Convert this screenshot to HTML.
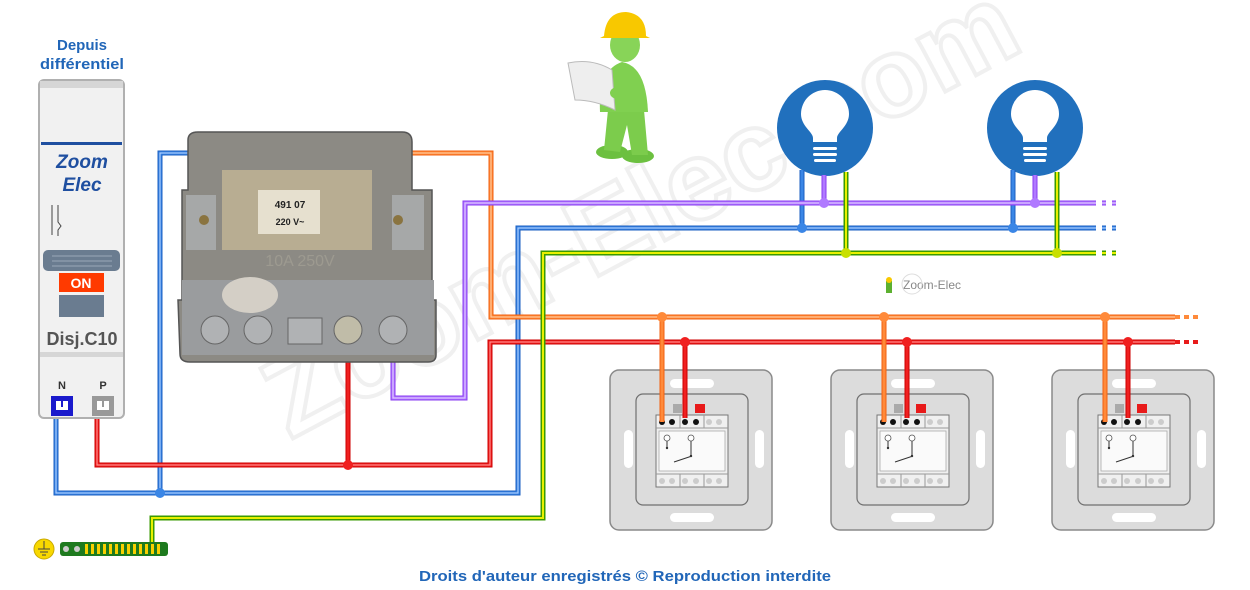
<!DOCTYPE html>
<html><head><meta charset="utf-8"><style>
html,body{margin:0;padding:0;background:#fff;width:1250px;height:590px;overflow:hidden}
svg{display:block;font-family:"Liberation Sans",sans-serif}
</style></head><body>
<svg width="1250" height="590" viewBox="0 0 1250 590" xmlns="http://www.w3.org/2000/svg">
<defs>
<g id="sw">
 <rect x="0" y="0" width="162" height="160" rx="9" fill="#dcdcdc" stroke="#8a8a8a" stroke-width="1.5"/>
 <rect x="26" y="24" width="112" height="111" rx="7" fill="#dcdcdc" stroke="#707070" stroke-width="1.2"/>
 <rect x="60" y="9" width="44" height="9" rx="4.5" fill="#fff"/>
 <rect x="60" y="143" width="44" height="9" rx="4.5" fill="#fff"/>
 <rect x="14" y="60" width="9" height="38" rx="4.5" fill="#fff"/>
 <rect x="145" y="60" width="9" height="38" rx="4.5" fill="#fff"/>
 <rect x="46" y="45" width="72" height="72" fill="#f0f0f0" stroke="#777" stroke-width="1"/>
 <rect x="63" y="34" width="9" height="9" fill="#aaa"/>
 <rect x="85" y="34" width="10" height="9" fill="#e81a1a"/>
 <line x1="70" y1="45" x2="70" y2="58" stroke="#999"/><line x1="94" y1="45" x2="94" y2="58" stroke="#999"/>
 <line x1="46" y1="58" x2="118" y2="58" stroke="#999"/>
 <circle cx="52" cy="52" r="3" fill="#111"/><circle cx="62" cy="52" r="3" fill="#111"/>
 <circle cx="75" cy="52" r="3" fill="#111"/><circle cx="86" cy="52" r="3" fill="#111"/>
 <circle cx="99" cy="52" r="3" fill="#ccc"/><circle cx="109" cy="52" r="3" fill="#ccc"/>
 <rect x="49" y="61" width="66" height="40" fill="#fafafa" stroke="#aaa" stroke-width=".8"/>
 <circle cx="57" cy="68" r="3" fill="#fff" stroke="#555" stroke-width=".8"/>
 <circle cx="81" cy="68" r="3" fill="#fff" stroke="#555" stroke-width=".8"/>
 <line x1="57" y1="71" x2="57" y2="78" stroke="#333"/><circle cx="57" cy="78" r="1.2" fill="#333"/>
 <line x1="81" y1="71" x2="81" y2="86" stroke="#333"/><circle cx="81" cy="86" r="1.2" fill="#333"/>
 <line x1="64" y1="92" x2="82" y2="86" stroke="#333"/>
 <line x1="46" y1="104" x2="118" y2="104" stroke="#999"/>
 <line x1="70" y1="104" x2="70" y2="117" stroke="#999"/><line x1="94" y1="104" x2="94" y2="117" stroke="#999"/>
 <circle cx="52" cy="111" r="3" fill="#ccc"/><circle cx="62" cy="111" r="3" fill="#ccc"/>
 <circle cx="75" cy="111" r="3" fill="#ccc"/><circle cx="86" cy="111" r="3" fill="#ccc"/>
 <circle cx="99" cy="111" r="3" fill="#ccc"/><circle cx="109" cy="111" r="3" fill="#ccc"/>
</g>
<g id="lamp">
 <circle cx="0" cy="0" r="48" fill="#2170bd"/>
 <path d="M-12,14 L-12,10 C-12,4 -24,-2 -24,-14 A24,24 0 1 1 24,-14 C24,-2 12,4 12,10 L12,14 Z" fill="#fff"/>
 <rect x="-12" y="19" width="24" height="3" rx="1.5" fill="#fff"/>
 <rect x="-12" y="25" width="24" height="3" rx="1.5" fill="#fff"/>
 <rect x="-11" y="31" width="22" height="3" rx="1.5" fill="#fff"/>
</g>
</defs>

<!-- watermark -->
<text x="0" y="0" transform="translate(290,440) rotate(-28)" font-size="112" font-weight="bold" fill="none" stroke="#f0f0f0" stroke-width="4">Zoom-Elec.com</text>

<!-- switches -->
<use href="#sw" x="610" y="370"/>
<use href="#sw" x="831" y="370"/>
<use href="#sw" x="1052" y="370"/>

<!-- lamps -->
<use href="#lamp" x="825" y="128"/>
<use href="#lamp" x="1035" y="128"/>

<!-- wires -->
<g fill="none" stroke-linejoin="miter">
 <g>
  <path d="M56,412 V493 H518 V228 H1120 M160,493 V153 H209 V190 M802,170 V228 M1013,170 V228" stroke="#1b5fc0" stroke-width="5"/>
  <path d="M56,412 V493 H518 V228 H1120 M160,493 V153 H209 V190 M802,170 V228 M1013,170 V228" stroke="#3a86e6" stroke-width="3"/>
  <path d="M56,412 V493 H518 V228 H1120 M160,493 V153 H209 V190" stroke="#b8d4ff" stroke-width="1"/>
  <path d="M1092,228 H1120" stroke="#fff" stroke-width="6" stroke-dasharray="0 4 6 4 6 4 4"/>
 </g>
 <g>
  <path d="M97,418 V465 H490 V342 H1175 M348,360 V465 M685,342 V418 M907,342 V418 M1128,342 V418" stroke="#c00" stroke-width="5"/>
  <path d="M97,418 V465 H490 V342 H1175 M348,360 V465 M685,342 V418 M907,342 V418 M1128,342 V418" stroke="#f02020" stroke-width="3"/>
  <path d="M97,418 V465 H490 V342 H1175" stroke="#ff9a9a" stroke-width="1"/>
  <path d="M1175,342 H1200" stroke="#e81a1a" stroke-width="4" stroke-dasharray="5 4"/>
 </g>
 <g>
  <path d="M398,192 V153 H491 V317 H1175 M662,317 V422 M884,317 V422 M1105,317 V422" stroke="#f06010" stroke-width="5"/>
  <path d="M398,192 V153 H491 V317 H1175 M662,317 V422 M884,317 V422 M1105,317 V422" stroke="#ff8a3a" stroke-width="3"/>
  <path d="M398,192 V153 H491 V317 H1175" stroke="#ffd0a8" stroke-width="1"/>
  <path d="M1175,317 H1200" stroke="#ff8a3a" stroke-width="4" stroke-dasharray="5 4"/>
 </g>
 <g>
  <path d="M393,360 V398 H465 V203 H1120 M824,175 V203 M1035,175 V203" stroke="#8a3cf0" stroke-width="5"/>
  <path d="M393,360 V398 H465 V203 H1120 M824,175 V203 M1035,175 V203" stroke="#b07aff" stroke-width="3"/>
  <path d="M393,360 V398 H465 V203 H1120" stroke="#e4d0ff" stroke-width="1"/>
  <path d="M1092,203 H1122" stroke="#fff" stroke-width="6" stroke-dasharray="0 4 6 4 6 4 4"/>
 </g>
 <g>
  <path d="M152,545 V518 H543 V253 H1120 M846,172 V253 M1057,172 V253" stroke="#3a9a00" stroke-width="5"/>
  <path d="M152,545 V518 H543 V253 H1120 M846,172 V253 M1057,172 V253" stroke="#e8f000" stroke-width="2"/>
  <path d="M1092,253 H1122" stroke="#fff" stroke-width="6" stroke-dasharray="0 4 6 4 6 4 4"/>
 </g>
</g>
<g>
 <circle cx="160" cy="493" r="5" fill="#3a86e6"/>
 <circle cx="348" cy="465" r="5" fill="#f02020"/>
 <circle cx="802" cy="228" r="5" fill="#3a86e6"/><circle cx="1013" cy="228" r="5" fill="#3a86e6"/>
 <circle cx="824" cy="203" r="5" fill="#b07aff"/><circle cx="1035" cy="203" r="5" fill="#b07aff"/>
 <circle cx="846" cy="253" r="5" fill="#c8e000"/><circle cx="1057" cy="253" r="5" fill="#c8e000"/>
 <circle cx="662" cy="317" r="5" fill="#ff8a3a"/><circle cx="884" cy="317" r="5" fill="#ff8a3a"/><circle cx="1105" cy="317" r="5" fill="#ff8a3a"/>
 <circle cx="685" cy="342" r="5" fill="#f02020"/><circle cx="907" cy="342" r="5" fill="#f02020"/><circle cx="1128" cy="342" r="5" fill="#f02020"/>
</g>

<!-- breaker -->
<text x="82" y="50" font-size="15" font-weight="bold" fill="#2166b8" text-anchor="middle">Depuis</text>
<text x="82" y="69" font-size="15" font-weight="bold" fill="#2166b8" text-anchor="middle" textLength="84" lengthAdjust="spacingAndGlyphs">différentiel</text>
<rect x="39" y="80" width="85" height="338" rx="5" fill="#f1f1f1" stroke="#b0b0b0" stroke-width="2"/>
<rect x="40" y="81" width="83" height="7" fill="#d6d6d6"/>
<rect x="41" y="142" width="81" height="3" fill="#1f4fa0"/>
<text x="82" y="168" font-size="19" font-weight="bold" font-style="italic" fill="#1f4fa0" text-anchor="middle">Zoom</text>
<text x="82" y="191" font-size="19" font-weight="bold" font-style="italic" fill="#1f4fa0" text-anchor="middle">Elec</text>
<path d="M52,205 V235 M58,205 V222 l3,4 l-3,4 V236" stroke="#444" stroke-width="1" fill="none"/>
<rect x="43" y="250" width="77" height="21" rx="5" fill="#6a7c90"/>
<line x1="52" y1="256" x2="112" y2="256" stroke="#9aa8b8"/><line x1="52" y1="261" x2="112" y2="261" stroke="#9aa8b8"/><line x1="52" y1="266" x2="112" y2="266" stroke="#9aa8b8"/>
<rect x="59" y="273" width="45" height="19" fill="#ff3a00"/>
<text x="81" y="288" font-size="14" font-weight="bold" fill="#fff" text-anchor="middle">ON</text>
<rect x="59" y="295" width="45" height="22" fill="#6a7c90"/>
<text x="82" y="345" font-size="18" font-weight="bold" fill="#555" text-anchor="middle">Disj.C10</text>
<rect x="40" y="352" width="83" height="5" fill="#d6d6d6"/>
<text x="62" y="389" font-size="11" font-weight="bold" fill="#333" text-anchor="middle">N</text>
<text x="103" y="389" font-size="11" font-weight="bold" fill="#333" text-anchor="middle">P</text>
<rect x="51" y="396" width="22" height="20" fill="#1a1acc"/><rect x="56" y="401" width="12" height="9" fill="#fff"/><rect x="61" y="401" width="2" height="6" fill="#1a1acc"/>
<rect x="92" y="396" width="22" height="20" fill="#999"/><rect x="97" y="401" width="12" height="9" fill="#fff"/><rect x="102" y="401" width="2" height="6" fill="#999"/>

<!-- relay -->
<g>
 <path d="M188,140 Q188,132 198,132 H402 Q412,132 412,142 V190 H432 V300 L436,300 V355 Q436,362 428,362 H190 Q180,362 180,354 L178,300 H182 V190 H188 Z" fill="#8c8a84" stroke="#555" stroke-width="1.5"/>
 <rect x="222" y="170" width="150" height="80" fill="#b8ad92"/>
 <rect x="258" y="190" width="62" height="44" fill="#e6e0cf"/>
 <text x="290" y="208" font-size="10" font-weight="bold" fill="#222" text-anchor="middle">491 07</text>
 <text x="290" y="225" font-size="9" font-weight="bold" fill="#222" text-anchor="middle">220 V~</text>
 <text x="300" y="266" font-size="16" fill="#9d9a90" text-anchor="middle">10A 250V</text>
 <rect x="186" y="195" width="30" height="55" fill="#a6a8a8"/>
 <rect x="392" y="195" width="32" height="55" fill="#a6a8a8"/>
 <circle cx="204" cy="220" r="5" fill="#8a7440"/><circle cx="398" cy="220" r="5" fill="#8a7440"/>
 <rect x="182" y="280" width="252" height="75" fill="#9a9c9e"/>
 <ellipse cx="250" cy="295" rx="28" ry="18" fill="#d4cfc6"/>
 <circle cx="215" cy="330" r="14" fill="#b0b2b4" stroke="#666"/>
 <circle cx="258" cy="330" r="14" fill="#b0b2b4" stroke="#666"/>
 <rect x="288" y="318" width="34" height="26" fill="#b0b2b4" stroke="#666"/>
 <circle cx="348" cy="330" r="14" fill="#c0bca8" stroke="#666"/>
 <circle cx="393" cy="330" r="14" fill="#b0b2b4" stroke="#666"/>
</g>

<!-- worker -->
<g>
 <ellipse cx="612" cy="152" rx="16" ry="7" fill="#6cc040"/>
 <ellipse cx="638" cy="156" rx="16" ry="7" fill="#6cc040"/>
 <path d="M604,150 L608,110 L644,110 L648,155 L632,155 L627,125 L620,152 Z" fill="#7ccc4c"/>
 <path d="M600,112 Q598,70 622,62 Q646,66 648,112 Z" fill="#80d050"/>
 <ellipse cx="625" cy="45" rx="15" ry="17" fill="#88d458"/>
 <path d="M604,36 Q606,12 626,12 Q646,14 646,36 L650,38 L600,38 Z" fill="#f8c800"/>
 <path d="M568,63 Q592,58 612,70 L615,110 Q595,100 575,100 Z" fill="#eeeeee" stroke="#bbb"/>
 <ellipse cx="618" cy="93" rx="8" ry="6" fill="#80d050"/>
</g>

<text x="903" y="289" font-size="12" fill="#888">Zoom-Elec</text>
<circle cx="912" cy="284" r="10" fill="none" stroke="#ddd"/>
<rect x="886" y="281" width="6" height="12" fill="#5cb030"/><circle cx="889" cy="280" r="3" fill="#f8c800"/>

<!-- earth bar -->
<circle cx="44" cy="549" r="10" fill="#f8d800" stroke="#c9a800"/>
<path d="M44,541 V549 M38,549 H50 M40,552 H48 M42,555 H46" stroke="#444" stroke-width="1"/>
<rect x="60" y="542" width="108" height="14" rx="3" fill="#1e7a1e"/>
<circle cx="66" cy="549" r="3" fill="#ccc"/><circle cx="77" cy="549" r="3" fill="#ccc"/>
<g fill="#f8d000">
 <rect x="85" y="544" width="3" height="10"/><rect x="91" y="544" width="3" height="10"/><rect x="97" y="544" width="3" height="10"/><rect x="103" y="544" width="3" height="10"/><rect x="109" y="544" width="3" height="10"/><rect x="115" y="544" width="3" height="10"/><rect x="121" y="544" width="3" height="10"/><rect x="127" y="544" width="3" height="10"/><rect x="133" y="544" width="3" height="10"/><rect x="139" y="544" width="3" height="10"/><rect x="145" y="544" width="3" height="10"/><rect x="151" y="544" width="3" height="10"/><rect x="157" y="544" width="3" height="10"/>
</g>

<text x="625" y="581" font-size="15" font-weight="bold" fill="#2166b8" text-anchor="middle" textLength="412" lengthAdjust="spacingAndGlyphs">Droits d'auteur enregistrés © Reproduction interdite</text>
</svg>
</body></html>
